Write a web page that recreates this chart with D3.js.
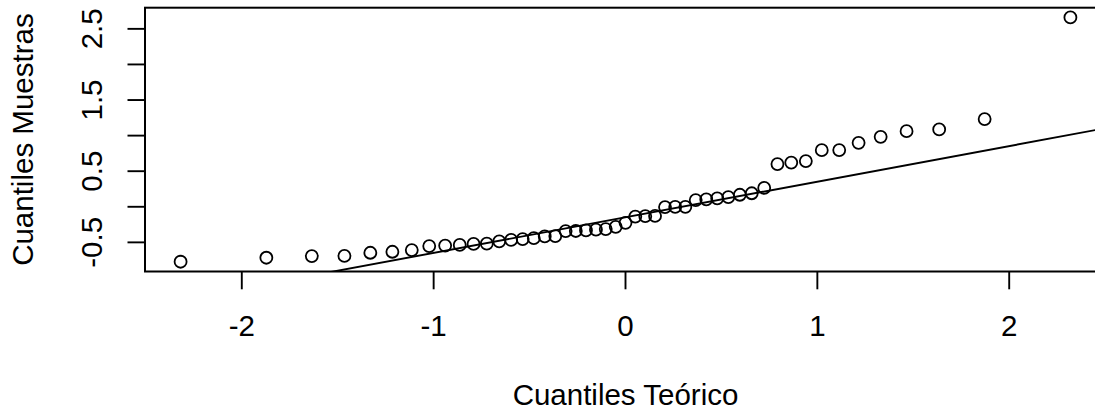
<!DOCTYPE html>
<html>
<head>
<meta charset="utf-8">
<script src="https://cdn.jsdelivr.net/npm/d3@7"></script>
<style>
    body { margin: 0; background: #fff; }
    svg text { font-family: "Liberation Sans", Arial, sans-serif; fill: #000; }
</style>
</head>
<body>
<div id="chart"></div>
<script>
// theoretical normal quantiles, n = 49 (ppoints)
var teorico = [-2.319, -1.872, -1.635, -1.465, -1.330, -1.215, -1.114, -1.023, -0.940, -0.864,
    -0.792, -0.723, -0.658, -0.596, -0.536, -0.478, -0.421, -0.366, -0.312, -0.259,
    -0.206, -0.154, -0.103, -0.051, 0.000, 0.051, 0.103, 0.154, 0.206, 0.259,
    0.312, 0.366, 0.421, 0.478, 0.536, 0.596, 0.658, 0.723, 0.792, 0.864,
    0.940, 1.023, 1.114, 1.215, 1.330, 1.465, 1.635, 1.872, 2.319];

// sample quantiles (sorted)
var muestras = [-0.772, -0.716, -0.692, -0.690, -0.646, -0.632, -0.608, -0.552, -0.545, -0.536,
    -0.522, -0.518, -0.485, -0.465, -0.454, -0.441, -0.416, -0.412, -0.341, -0.340,
    -0.332, -0.322, -0.313, -0.281, -0.225, -0.138, -0.132, -0.128, -0.004, -0.002,
    0.000, 0.094, 0.104, 0.118, 0.136, 0.169, 0.190, 0.265, 0.600, 0.621,
    0.642, 0.796, 0.797, 0.899, 0.983, 1.063, 1.087, 1.232, 2.660];

var xTicks = [-2, -1, 0, 1, 2];
var yTicks = [-0.5, 0, 0.5, 1, 1.5, 2, 2.5];
var yLabels = [-0.5, 0.5, 1.5, 2.5];

function init() {
    var w = 1095;
    var h = 412;
    var left = 145, right = 1106, top = 7.7, bottom = 271.5;

    // R style range: data extent padded by 4%
    function padded(arr) {
        var e = d3.extent(arr);
        var p = (e[1] - e[0]) * 0.04;
        return [e[0] - p, e[1] + p];
    }

    var xScale = d3.scaleLinear().domain(padded(teorico)).range([left, right]);
    var yScale = d3.scaleLinear().domain(padded(muestras)).range([bottom, top]);

    var svg = d3.select("#chart")
        .append("svg")
        .attr("width", w)
        .attr("height", h);

    var plot = svg.append("g");

    // clip for qqline
    svg.append("clipPath")
        .attr("id", "clip")
        .append("rect")
        .attr("x", left)
        .attr("y", top)
        .attr("width", right - left)
        .attr("height", bottom - top);

    // qqline through the quartiles
    var q1 = d3.quantile(muestras, 0.25);
    var q3 = d3.quantile(muestras, 0.75);
    var z = 0.6744898;
    var slope = (q3 - q1) / (2 * z);
    var inter = q1 + slope * z;
    var xd = xScale.domain();

    plot.append("line")
        .attr("clip-path", "url(#clip)")
        .attr("x1", xScale(xd[0]))
        .attr("y1", yScale(inter + slope * xd[0]))
        .attr("x2", xScale(xd[1]))
        .attr("y2", yScale(inter + slope * xd[1]))
        .attr("stroke", "#000")
        .attr("stroke-width", 1.9);

    plot.selectAll("circle")
        .data(teorico)
        .enter()
        .append("circle")
        .attr("cx", function (d) { return xScale(d); })
        .attr("cy", function (d, i) { return yScale(muestras[i]); })
        .attr("r", 6)
        .attr("fill", "none")
        .attr("stroke", "#000")
        .attr("stroke-width", 1.8);

    // box
    svg.append("rect")
        .attr("x", left)
        .attr("y", top)
        .attr("width", right - left)
        .attr("height", bottom - top)
        .attr("fill", "none")
        .attr("stroke", "#000")
        .attr("stroke-width", 2);

    // x axis
    var xAxis = svg.append("g");
    xAxis.selectAll("line")
        .data(xTicks)
        .enter()
        .append("line")
        .attr("x1", function (d) { return xScale(d); })
        .attr("x2", function (d) { return xScale(d); })
        .attr("y1", bottom)
        .attr("y2", bottom + 17.8)
        .attr("stroke", "#000")
        .attr("stroke-width", 1.9);
    xAxis.selectAll("text")
        .data(xTicks)
        .enter()
        .append("text")
        .attr("x", function (d) { return xScale(d); })
        .attr("y", 336)
        .attr("text-anchor", "middle")
        .style("font-size", "29.5px")
        .text(function (d) { return d; });

    // y axis
    var yAxis = svg.append("g");
    yAxis.selectAll("line")
        .data(yTicks)
        .enter()
        .append("line")
        .attr("x1", left - 17.5)
        .attr("x2", left)
        .attr("y1", function (d) { return yScale(d); })
        .attr("y2", function (d) { return yScale(d); })
        .attr("stroke", "#000")
        .attr("stroke-width", 1.9);
    yAxis.selectAll("text")
        .data(yLabels)
        .enter()
        .append("text")
        .attr("transform", function (d) { return "translate(102," + yScale(d) + ") rotate(-90)"; })
        .attr("text-anchor", "middle")
        .style("font-size", "29.5px")
        .text(function (d) { return d3.format(".1f")(d).replace("\u2212", "-"); });

    // titles
    svg.append("text")
        .attr("x", (left + right) / 2)
        .attr("y", 404.5)
        .attr("text-anchor", "middle")
        .style("font-size", "29.5px")
        .text("Cuantiles Teórico");

    svg.append("text")
        .attr("transform", "translate(33," + (top + bottom) / 2 + ") rotate(-90)")
        .attr("text-anchor", "middle")
        .style("font-size", "29.5px")
        .text("Cuantiles Muestras");
}

window.onload = init;
</script>
</body>
</html>
